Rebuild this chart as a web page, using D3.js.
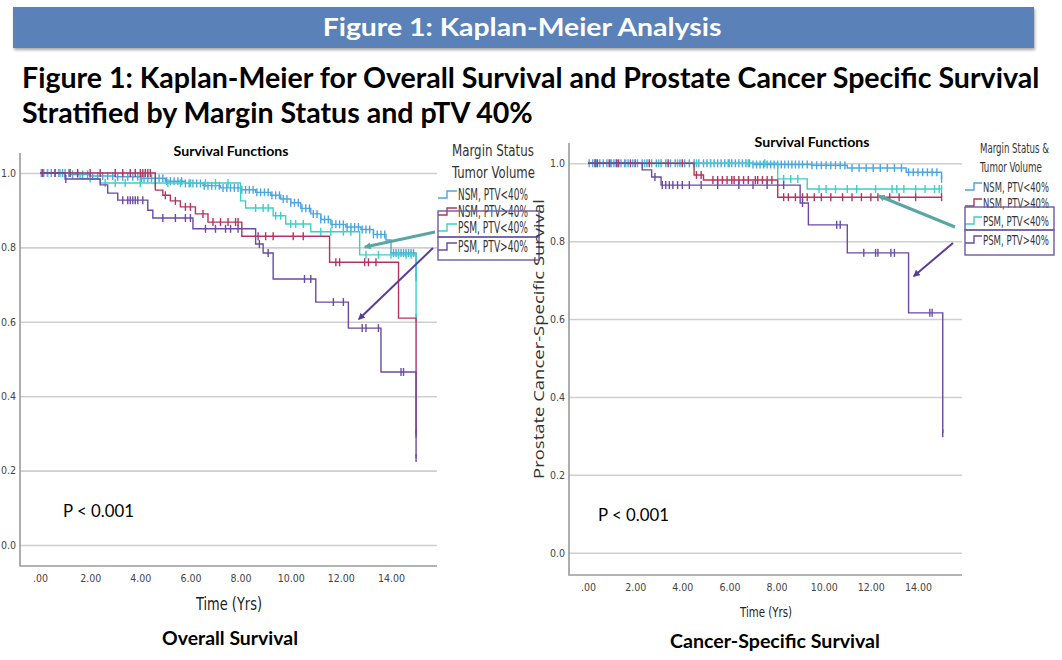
<!DOCTYPE html>
<html lang="en">
<head>
<meta charset="UTF-8" />
<title>Kaplan-Meier Analysis</title>
<style>
  body { margin: 0; background: #fff; }
  .narrow { font-family: "Liberation Sans Narrow", "DejaVu Sans Condensed", "Liberation Sans", sans-serif; }
  .tick text { font-family: "Liberation Sans Narrow", "DejaVu Sans Condensed", sans-serif; font-size: 10.5px; fill: #444; }
</style>
</head>
<body>
<svg id="svg" width="1062" height="660"></svg>
<script src="https://d3js.org/d3.v7.min.js"></script>
<script>
// ---- data ----
const groups = ["NSM, PTV<40%", "NSM, PTV>40%", "PSM, PTV<40%", "PSM, PTV>40%"];
const groupColors = ["#4ba6e2", "#b5335c", "#3ccfc6", "#6a4aa6"];
const xTicks = [0, 2, 4, 6, 8, 10, 12, 14];
const xTickLabels = [".00", "2.00", "4.00", "6.00", "8.00", "10.00", "12.00", "14.00"];
const yTicks = [0, 0.2, 0.4, 0.6, 0.8, 1.0];
const yTickLabels = ["0.0", "0.2", "0.4", "0.6", "0.8", "1.0"];

// Overall survival
const osNsmLowT = [0, 1.2, 2.0, 3.0, 4.0, 5.0, 5.8, 6.5, 7.2, 8.0, 8.6, 9.2, 9.6, 10.0, 10.4, 10.8, 11.2, 11.6, 12.2, 12.8, 13.3, 13.8, 14.0, 15.0];
const osNsmLowS = [1, 0.996, 0.992, 0.99, 0.986, 0.978, 0.972, 0.966, 0.96, 0.955, 0.948, 0.94, 0.93, 0.92, 0.905, 0.89, 0.875, 0.862, 0.855, 0.848, 0.835, 0.82, 0.785, 0.72];
const osNsmLowC = [0.05, 0.15, 0.3, 0.45, 0.6, 0.75, 0.9, 1.0, 1.15, 1.3, 1.5, 1.7, 1.9, 2.1, 2.3, 2.5, 2.7, 2.9, 3.1, 3.3, 3.5, 3.7, 3.9, 4.05, 4.15, 4.3, 4.45, 4.6, 4.75, 4.9, 5.05, 5.2, 5.35, 5.5, 5.65, 5.8, 5.95, 6.1, 6.25, 6.4, 6.55, 6.7, 6.85, 7.0, 7.15, 7.3, 7.45, 7.6, 7.75, 7.9, 8.05, 8.2, 8.35, 8.5, 8.65, 8.8, 8.95, 9.1, 9.25, 9.4, 9.55, 9.7, 9.85, 10.0, 10.15, 10.3, 10.45, 10.6, 10.75, 10.9, 11.05, 11.2, 11.35, 11.5, 11.65, 11.8, 11.95, 12.1, 12.25, 12.4, 12.55, 12.7, 12.85, 13.0, 13.15, 13.3, 13.45, 13.6, 13.75, 14.1, 14.2, 14.3, 14.4, 14.5, 14.6, 14.7, 14.8, 14.9, 15.0];
const osNsmHighT = [0, 4.6, 4.9, 5.2, 5.6, 6.2, 6.7, 8.05, 11.55, 14.3, 15.0];
const osNsmHighS = [1, 0.954, 0.94, 0.925, 0.909, 0.89, 0.868, 0.83, 0.76, 0.61, 0.30];
const osNsmHighC = [0.1, 0.6, 1.2, 1.5, 2.0, 2.4, 3.0, 3.3, 3.6, 3.8, 4.0, 4.1, 4.2, 4.3, 4.4, 5.0, 5.4, 5.8, 6.0, 6.5, 6.9, 7.2, 7.5, 7.8, 7.9, 8.7, 9.0, 9.3, 10.1, 10.5, 11.8, 11.95, 12.95, 13.1, 13.4, 15.0];
const osPsmLowT = [0, 1.6, 2.4, 8.0, 8.2, 9.3, 9.8, 10.8, 12.75, 15.0];
const osPsmLowS = [1, 0.985, 0.973, 0.925, 0.906, 0.885, 0.863, 0.842, 0.78, 0.61];
const osPsmLowC = [0.3, 0.8, 1.2, 2.0, 2.6, 3.0, 3.4, 4.0, 4.6, 5.1, 5.6, 6.0, 6.6, 7.0, 7.5, 8.6, 8.9, 9.1, 9.4, 9.6, 10.0, 10.2, 10.5, 11.2, 11.6, 12.1, 12.4, 13.0, 13.5, 14.0, 14.3, 14.6, 14.8, 15.0];
const osPsmHighT = [0, 1.0, 2.4, 2.7, 3.1, 4.3, 4.5, 6.1, 8.6, 8.9, 9.3, 11.0, 12.3, 13.6, 15.0];
const osPsmHighS = [1, 0.984, 0.968, 0.946, 0.927, 0.9, 0.879, 0.85, 0.809, 0.785, 0.715, 0.653, 0.583, 0.465, 0.234];
const osPsmHighC = [1.03, 3.3, 3.5, 3.6, 3.7, 3.8, 3.9, 4.1, 4.9, 5.4, 5.8, 6.0, 6.6, 7.0, 7.4, 7.6, 7.9, 8.75, 9.1, 10.55, 10.8, 11.7, 12.1, 12.85, 13.0, 13.5, 14.4, 14.5, 15.0];

// Cancer-specific survival
const csNsmLowT = [0, 7.0, 9.5, 11.0, 13.5, 15.0];
const csNsmLowS = [1, 0.997, 0.995, 0.988, 0.977, 0.96];
const csNsmLowC = [0.05, 0.2, 0.35, 0.5, 0.65, 0.8, 0.95, 1.1, 1.25, 1.4, 1.55, 1.7, 1.9, 2.1, 2.3, 2.5, 2.7, 2.9, 3.1, 3.3, 3.5, 3.7, 3.9, 4.1, 4.3, 4.5, 4.7, 4.9, 5.05, 5.2, 5.35, 5.5, 5.65, 5.8, 5.95, 6.1, 6.25, 6.4, 6.55, 6.7, 6.85, 7.0, 7.15, 7.3, 7.45, 7.6, 7.75, 7.9, 8.05, 8.2, 8.35, 8.5, 8.65, 8.8, 8.95, 9.1, 9.3, 9.5, 9.7, 9.9, 10.1, 10.3, 10.5, 10.7, 10.9, 11.2, 11.5, 11.8, 12.1, 12.4, 12.7, 13.0, 13.3, 13.6, 13.8, 14.0, 14.2, 14.4, 14.6, 14.8, 15.0];
const csNsmHighT = [0, 4.5, 4.9, 8.05];
const csNsmHighS = [1, 0.97, 0.957, 0.913];
const csNsmHighC = [0.3, 0.9, 1.3, 1.8, 2.6, 3.4, 4.0, 4.6, 4.8, 5.3, 5.5, 5.7, 5.9, 6.1, 6.2, 6.4, 6.6, 6.8, 7.1, 7.2, 7.4, 7.6, 7.8, 8.3, 8.5, 8.8, 9.1, 9.3, 9.6, 9.9, 10.3, 10.8, 11.2, 11.6, 12.0, 12.3, 12.8, 13.2, 13.9, 15.0];
const csPsmLowT = [0, 8.05, 9.3];
const csPsmLowS = [1, 0.96, 0.934];
const csPsmLowC = [0.3, 1.0, 1.6, 2.4, 3.0, 3.8, 4.6, 5.2, 6.0, 6.8, 7.5, 8.3, 8.6, 8.9, 9.8, 10.1, 10.5, 11.0, 11.4, 12.2, 12.9, 13.1, 13.4, 13.9, 14.3, 14.7, 14.9, 15.0];
const csPsmHighT = [0, 2.3, 2.7, 3.1, 9.0, 9.35, 11.0, 13.6, 15.05];
const csPsmHighS = [1, 0.983, 0.965, 0.944, 0.898, 0.842, 0.77, 0.616, 0.307];
const csPsmHighC = [0.4, 1.2, 2.0, 2.84, 3.15, 3.3, 3.45, 3.6, 3.8, 4.0, 4.3, 4.8, 5.5, 6.4, 7.0, 7.6, 8.3, 9.1, 10.55, 10.7, 11.7, 12.2, 12.3, 12.85, 13.0, 14.5, 14.6, 15.05];

const osSeries = [
  [osNsmLowT, osNsmLowS, osNsmLowC, 0],
  [osPsmLowT, osPsmLowS, osPsmLowC, 2],
  [osNsmHighT, osNsmHighS, osNsmHighC, 1],
  [osPsmHighT, osPsmHighS, osPsmHighC, 3],
];
const csSeries = [
  [csNsmLowT, csNsmLowS, csNsmLowC, 0],
  [csPsmLowT, csPsmLowS, csPsmLowC, 2],
  [csNsmHighT, csNsmHighS, csNsmHighC, 1],
  [csPsmHighT, csPsmHighS, csPsmHighC, 3],
];

const svg = d3.select('#svg');
const defs = svg.append('defs');
defs.append('filter').attr('id', 'shadow').attr('x', '-5%').attr('y', '-20%').attr('width', '110%').attr('height', '160%')
  .append('feDropShadow').attr('dx', 1).attr('dy', 2).attr('stdDeviation', 1.5).attr('flood-color', '#000').attr('flood-opacity', 0.35);
[['headTeal', '#5aa6a6'], ['headPurple', '#5a3d9a']].forEach(([id, c]) => {
  defs.append('marker').attr('id', id).attr('viewBox', '0 0 10 10').attr('refX', 8).attr('refY', 5)
    .attr('markerUnits', 'userSpaceOnUse').attr('markerWidth', 7).attr('markerHeight', 7).attr('orient', 'auto')
    .append('path').attr('d', 'M0,0 L10,5 L0,10 z').attr('fill', c);
});

// squeeze a text horizontally to a given width (keeps its height)
function fitText(sel, x, y, w, rot) {
  const n = sel.node().getComputedTextLength();
  sel.attr('transform', `translate(${x},${y})${rot ? ' rotate(-90)' : ''} scale(${w / n},1)`);
  return sel;
}

// banner + headings
svg.append('rect').attr('x', 13).attr('y', 7).attr('width', 1021).attr('height', 41)
  .attr('fill', '#5a82b9').attr('filter', 'url(#shadow)');
fitText(svg.append('text').attr('text-anchor', 'middle')
  .attr('font-family', 'Lato, sans-serif').attr('font-weight', 'bold').attr('font-size', 24)
  .attr('fill', '#fff').text('Figure 1: Kaplan-Meier Analysis'), 522, 36, 399);
fitText(svg.append('text')
  .attr('font-family', 'Lato, sans-serif').attr('font-weight', 'bold').attr('font-size', 28)
  .text('Figure 1: Kaplan-Meier for Overall Survival and Prostate Cancer Specific Survival'), 22, 88, 1018);
fitText(svg.append('text')
  .attr('font-family', 'Lato, sans-serif').attr('font-weight', 'bold').attr('font-size', 28)
  .text('Stratified by Margin Status and pTV 40%'), 22, 123, 511);

function survivalAt(ts, ss, t) {
  let v = ss[0];
  for (let i = 0; i < ts.length; i++) if (ts[i] <= t) v = ss[i];
  return v;
}

function drawPanel(p, series) {
  const x = d3.scaleLinear().domain([0, 14]).range(p.xRange);
  const y = d3.scaleLinear().domain([0, 1]).range(p.yRange);
  const g = svg.append('g');

  // grid + y labels
  const yAxis = d3.axisLeft(y).tickValues(yTicks)
    .tickFormat((d, i) => yTickLabels[i]).tickSize(-(p.gridRight - p.axisX)).tickPadding(4);
  const ya = g.append('g').attr('transform', `translate(${p.axisX},0)`).call(yAxis);
  ya.select('.domain').remove();
  ya.selectAll('.tick line').attr('stroke', '#cfcfcf').attr('stroke-width', 1.6);

  const xAxis = d3.axisBottom(x).tickValues(xTicks).tickFormat((d, i) => xTickLabels[i]).tickSize(0).tickPadding(9);
  const xa = g.append('g').attr('transform', `translate(0,${p.axisBottom})`).call(xAxis);
  xa.select('.domain').remove();

  g.append('path').attr('d', `M${p.axisX},${p.axisTop}V${p.axisBottom}H${p.gridRight}`)
    .attr('fill', 'none').attr('stroke', '#9a9a9a').attr('stroke-width', 1.6);

  const line = d3.line().x(d => x(d[0])).y(d => y(d[1])).curve(d3.curveStepAfter);
  series.forEach(([ts, ss, cs, gi]) => {
    const end = Math.max(ts[ts.length - 1], cs[cs.length - 1]);
    const pts = ts.map((t, i) => [t, ss[i]]);
    pts.push([end, ss[ss.length - 1]]);
    g.append('path').attr('d', line(pts)).attr('fill', 'none')
      .attr('stroke', groupColors[gi]).attr('stroke-width', 1.4);
    g.append('g').selectAll('line').data(cs).join('line')
      .attr('x1', d => x(d)).attr('x2', d => x(d))
      .attr('y1', d => y(survivalAt(ts, ss, d)) - 4).attr('y2', d => y(survivalAt(ts, ss, d)) + 4)
      .attr('stroke', groupColors[gi]).attr('stroke-width', 1.4);
  });

  // titles
  fitText(g.append('text').attr('text-anchor', 'middle')
    .attr('font-family', 'Lato, sans-serif').attr('font-weight', 'bold').attr('font-size', 12.5)
    .text('Survival Functions'), p.sfX, p.sfY, 115);
  fitText(g.append('text').attr('class', 'narrow').attr('text-anchor', 'middle')
    .attr('font-size', p.timeSize).attr('fill', '#222').text('Time (Yrs)'), p.timeX, p.timeY, p.timeW);
  fitText(g.append('text').attr('text-anchor', 'middle')
    .attr('font-family', 'Lato, sans-serif').attr('font-weight', 'bold').attr('font-size', 18)
    .text(p.caption), p.capX, p.capY, p.capW);
  fitText(g.append('text')
    .attr('font-family', 'Lato, sans-serif').attr('font-size', 17).text('P < 0.001'), p.pX, p.pY, 71);

  // legend
  p.legHead.forEach((t, i) => {
    fitText(g.append('text').attr('class', 'narrow')
      .attr('font-size', p.legHeadSize).attr('fill', '#333').text(t), p.legHeadX, p.legHeadY[i], p.legHeadW[i]);
  });
  groups.forEach((name, i) => {
    const b = p.legItemY[i];
    const sx = p.legX;
    g.append('path').attr('d', `M${sx},${b - 2}H${sx + 9}V${b - 9}H${sx + p.symW}`)
      .attr('fill', 'none').attr('stroke', groupColors[i]).attr('stroke-width', 1.4);
    fitText(g.append('text').attr('class', 'narrow')
      .attr('font-size', p.legSize).attr('fill', '#333').text(name), sx + p.symW + 1, b, p.legTextW);
  });
  p.boxes.forEach(([y0, y1]) => {
    g.append('rect').attr('x', p.legX).attr('y', y0).attr('width', p.boxW).attr('height', y1 - y0)
      .attr('fill', 'none').attr('stroke', '#6c5aa6').attr('stroke-width', 1.4);
  });
  g.append('line').attr('x1', p.tealArrow[0]).attr('y1', p.tealArrow[1]).attr('x2', p.tealArrow[2]).attr('y2', p.tealArrow[3])
    .attr('stroke', '#5aa6a6').attr('stroke-width', 3).attr('marker-end', 'url(#headTeal)');
  g.append('line').attr('x1', p.purpleArrow[0]).attr('y1', p.purpleArrow[1]).attr('x2', p.purpleArrow[2]).attr('y2', p.purpleArrow[3])
    .attr('stroke', '#5a3d9a').attr('stroke-width', 2).attr('marker-end', 'url(#headPurple)');

  if (p.yLabel) {
    fitText(g.append('text').attr('text-anchor', 'middle')
      .attr('font-family', '"Open Sans", sans-serif').attr('font-size', 14)
      .attr('fill', '#333').text(p.yLabel), p.yLabelX, p.yLabelY, 280, true);
  }
}

drawPanel({
  xRange: [40, 391], yRange: [545, 173], axisX: 20, axisTop: 153, axisBottom: 566, gridRight: 437,
  sfX: 231, sfY: 156, timeX: 229, timeY: 610, timeSize: 17, timeW: 66,
  capX: 230, capY: 645, capW: 136, caption: 'Overall Survival', pX: 63, pY: 517,
  legX: 438, legHead: ['Margin Status', 'Tumor Volume'], legHeadX: 452, legHeadY: [156, 178],
  legHeadW: [82, 83], legHeadSize: 16,
  legItemY: [200, 217, 233, 252], legSize: 15, legTextW: 70, symW: 19, boxW: 101,
  boxes: [[211, 237], [237, 260]], tealArrow: [435, 232, 365, 247], purpleArrow: [433, 248, 359, 319]
}, osSeries);

drawPanel({
  xRange: [588, 918], yRange: [552.7, 163.3], axisX: 569, axisTop: 143, axisBottom: 575, gridRight: 962,
  sfX: 812, sfY: 147, timeX: 766, timeY: 617, timeSize: 14, timeW: 52,
  capX: 775, capY: 648, capW: 210, caption: 'Cancer-Specific Survival', pX: 598, pY: 521,
  legX: 965, legHead: ['Margin Status &', 'Tumor Volume'], legHeadX: 980, legHeadY: [153, 172],
  legHeadW: [69, 62], legHeadSize: 14,
  legItemY: [192, 208, 226, 245], legSize: 14.5, legTextW: 66, symW: 17, boxW: 89,
  boxes: [[207, 230], [230, 255]], tealArrow: [955, 227, 879, 196], purpleArrow: [953, 243, 914, 276],
  yLabel: 'Prostate Cancer-Specific  Survival', yLabelX: 544, yLabelY: 339
}, csSeries);
</script>
</body>
</html>
